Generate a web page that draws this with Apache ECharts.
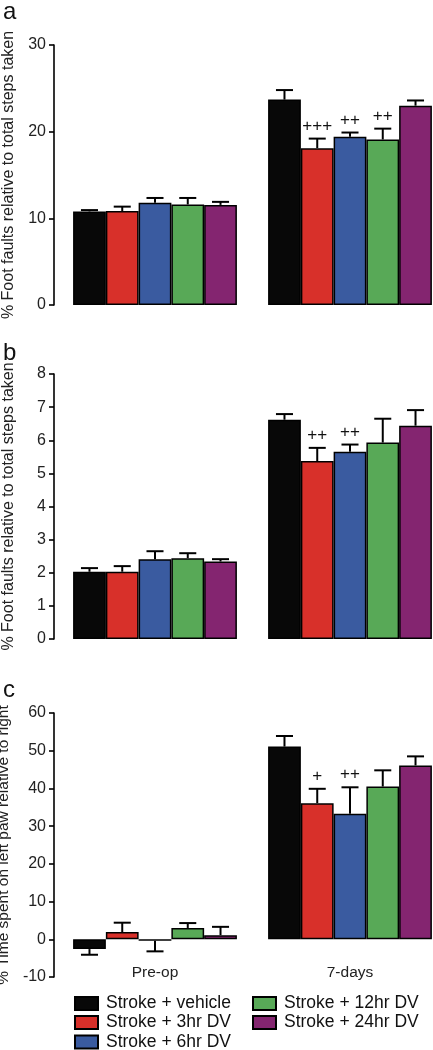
<!DOCTYPE html>
<html>
<head>
<meta charset="utf-8">
<script src="https://cdn.jsdelivr.net/npm/echarts@6/dist/echarts.min.js"></script>
<style>
html,body{margin:0;padding:0;background:#fff;}
#chart{width:433px;height:1050px;}
</style>
</head>
<body>
<div id="chart"></div>
<script>
// ---- data ----
const categories = ['Pre-op', '7-days'];
const seriesNames = ['Stroke + vehicle', 'Stroke + 3hr DV', 'Stroke + 6hr DV', 'Stroke + 12hr DV', 'Stroke + 24hr DV'];
const colors = ['#080808', '#d8302a', '#3a5ba0', '#58a957', '#842570'];

// Panel a: % foot faults (ladder 1)
const aPreop    = [10.8, 10.85, 11.8, 11.6, 11.55];
const aPreopSem = [0.15, 0.5, 0.55, 0.75, 0.35];
const a7d       = [23.7, 18.1, 19.4, 19.1, 23.0];
const a7dSem    = [1.1, 1.1, 0.5, 1.25, 0.6];
const aSig      = ['', '+++', '++', '++', ''];
const aTicks    = [0, 30, 10];

// Panel b: % foot faults (ladder 2)
const bPreop    = [2.03, 2.03, 2.41, 2.44, 2.34];
const bPreopSem = [0.11, 0.17, 0.24, 0.15, 0.07];
const b7d       = [6.62, 5.37, 5.65, 5.93, 6.44];
const b7dSem    = [0.17, 0.40, 0.22, 0.72, 0.47];
const bSig      = ['', '++', '++', '', ''];
const bTicks    = [0, 8, 1];

// Panel c: % time on left paw
const cPreop    = [-2.6, 1.9, -0.4, 3.0, 1.1];
const cPreopSem = [1.5, 2.5, 2.8, 1.3, 2.2];
const c7d       = [51.1, 36.1, 33.3, 40.5, 46.1];
const c7dSem    = [2.8, 3.8, 7.0, 4.3, 2.4];
const cSig      = ['', '+', '++', '', ''];
const cTicks    = [-10, 60, 10];

const yTitles = ['% Foot faults relative to total steps taken',
                 '% Foot faults relative to total steps taken',
                 '% Time spent on left paw relative to right'];

// ---- build ----
const FONT = '"Liberation Sans", Arial, Helvetica, sans-serif';
const GAP = 0.16;
const panels = [
  {pre: aPreop, preSem: aPreopSem, d7: a7d, d7Sem: a7dSem, sig: aSig, ticks: aTicks, top: 45, height: 260, tfs: 16},
  {pre: bPreop, preSem: bPreopSem, d7: b7d, d7Sem: b7dSem, sig: bSig, ticks: bTicks, top: 374, height: 265, tfs: 16},
  {pre: cPreop, preSem: cPreopSem, d7: c7d, d7Sem: c7dSem, sig: cSig, ticks: cTicks, top: 713, height: 264, tfs: 15.5}
];

const grid = [], xAxis = [], yAxis = [], series = [];
panels.forEach((p, pi) => {
  grid.push({left: 57.5, width: 390, top: p.top, height: p.height, containLabel: false, outerBoundsMode: 'none'});
  xAxis.push({
    type: 'category', gridIndex: pi, data: categories,
    axisLine: {show: false}, axisTick: {show: false},
    offset: pi === 2 ? -12 : 0,
    axisLabel: {show: pi === 2, margin: 0, fontSize: 15.5, color: '#222', fontFamily: FONT}
  });
  yAxis.push({
    type: 'value', gridIndex: pi, min: p.ticks[0], max: p.ticks[1], interval: p.ticks[2],
    offset: 3.5, splitLine: {show: false},
    axisLine: {show: true, lineStyle: {color: '#000', width: 1.6}},
    axisTick: {show: true, length: 5, lineStyle: {color: '#000', width: 1.6}},
    axisLabel: {fontSize: 16, color: '#222', margin: 8, fontFamily: FONT},
    name: yTitles[pi], nameLocation: 'middle', nameGap: 37,
    nameTextStyle: {fontSize: p.tfs, color: '#222', fontFamily: FONT}
  });
  seriesNames.forEach((nm, si) => {
    series.push({
      type: 'bar', name: nm, xAxisIndex: pi, yAxisIndex: pi,
      data: [p.pre[si], p.d7[si]],
      barGap: '0%', barCategoryGap: (GAP * 100) + '%',
      itemStyle: {color: colors[si], borderColor: '#000', borderWidth: 1.5},
      emphasis: {disabled: true}, z: 2
    });
  });
  // error bars + significance marks
  const ebData = [], ebMeta = [];
  [p.pre, p.d7].forEach((vals, ci) => {
    const sems = ci === 0 ? p.preSem : p.d7Sem;
    vals.forEach((v, si) => {
      const end = v >= 0 ? v + sems[si] : v - sems[si];
      ebData.push([ci, v, end]);
      ebMeta.push({si: si, sig: ci === 1 ? p.sig[si] : ''});
    });
  });
  series.push({
    type: 'custom', xAxisIndex: pi, yAxisIndex: pi, z: 5,
    data: ebData,
    renderItem: function (params, api) {
      const meta = ebMeta[params.dataIndex];
      const band = api.size([1, 0])[0];
      const barW = band * (1 - GAP) / 5;
      const cx = api.coord([api.value(0), 0])[0] + (meta.si - 2) * barW;
      const y0 = api.coord([api.value(0), api.value(1)])[1];
      const y1 = api.coord([api.value(0), api.value(2)])[1];
      const capW = barW * 0.52;
      const st = {stroke: '#000', lineWidth: 2, fill: null};
      const children = [
        {type: 'line', shape: {x1: cx, y1: y0, x2: cx, y2: y1}, style: st},
        {type: 'line', shape: {x1: cx - capW / 2, y1: y1, x2: cx + capW / 2, y2: y1}, style: st}
      ];
      if (meta.sig) {
        children.push({type: 'text', style: {text: meta.sig, x: cx, y: y1 - 4, align: 'center',
          verticalAlign: 'bottom', fontSize: 17, fontFamily: FONT, fill: '#111'}});
      }
      return {type: 'group', children: children};
    }
  });
});

// legend: two columns (3 + 2 items), one single-item legend per entry
const legendPos = [[74, 994.5], [74, 1013.5], [74, 1033], [252, 994.5], [252, 1013.5]];
const legends = seriesNames.map((nm, i) => ({
  left: legendPos[i][0], top: legendPos[i][1], padding: 0,
  orient: 'horizontal', icon: 'rect', itemWidth: 23, itemHeight: 13,
  selectedMode: false, data: [nm],
  textStyle: {fontSize: 17.5, color: '#111', fontFamily: FONT, padding: [0, 0, 0, 3]}
}));

const option = {
  animation: false,
  backgroundColor: '#fff',
  grid: grid, xAxis: xAxis, yAxis: yAxis, series: series,
  legend: legends,
  graphic: [
    {type: 'text', left: 3, top: 0, style: {text: 'a', fontSize: 24, fontFamily: FONT, fill: '#111'}},
    {type: 'text', left: 3, top: 341, style: {text: 'b', fontSize: 24, fontFamily: FONT, fill: '#111'}},
    {type: 'text', left: 3, top: 678, style: {text: 'c', fontSize: 24, fontFamily: FONT, fill: '#111'}}
  ]
};

const chart = echarts.init(document.getElementById('chart'), null, {renderer: 'canvas'});
chart.setOption(option);
</script>
</body>
</html>
